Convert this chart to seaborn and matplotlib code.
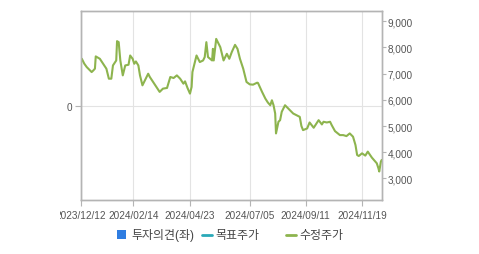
import matplotlib
matplotlib.use("Agg")
import matplotlib.pyplot as plt
from matplotlib.patches import Rectangle
from matplotlib.lines import Line2D
from matplotlib.transforms import Bbox, TransformedBbox
import pandas as pd
import seaborn as sns

# ---- data ----
dates = [
    "2023-12-13", "2023-12-16", "2023-12-19", "2023-12-25", "2023-12-27", "2023-12-29", "2023-12-30",
    "2024-01-04", "2024-01-08", "2024-01-12", "2024-01-15", "2024-01-18", "2024-01-20", "2024-01-24",
    "2024-01-25", "2024-01-27", "2024-01-29", "2024-02-01", "2024-02-04", "2024-02-08", "2024-02-10",
    "2024-02-13", "2024-02-15", "2024-02-17", "2024-02-20", "2024-02-22", "2024-02-25", "2024-02-28",
    "2024-03-03", "2024-03-05", "2024-03-09", "2024-03-13", "2024-03-17", "2024-03-21", "2024-03-26",
    "2024-03-30", "2024-04-03", "2024-04-07", "2024-04-11", "2024-04-15", "2024-04-17", "2024-04-20",
    "2024-04-23", "2024-04-25", "2024-04-26", "2024-05-01", "2024-05-05", "2024-05-09", "2024-05-11",
    "2024-05-13", "2024-05-15", "2024-05-20", "2024-05-21", "2024-05-22", "2024-05-25", "2024-05-30",
    "2024-06-03", "2024-06-07", "2024-06-10", "2024-06-13", "2024-06-17", "2024-06-20", "2024-06-23",
    "2024-06-27", "2024-07-01", "2024-07-05", "2024-07-09", "2024-07-14", "2024-07-15", "2024-07-20",
    "2024-07-24", "2024-07-27", "2024-07-30", "2024-08-01", "2024-08-03", "2024-08-05", "2024-08-06",
    "2024-08-09", "2024-08-11", "2024-08-13", "2024-08-17", "2024-08-21", "2024-08-23", "2024-08-27",
    "2024-08-31", "2024-09-04", "2024-09-06", "2024-09-08", "2024-09-13", "2024-09-16", "2024-09-21",
    "2024-09-27", "2024-10-01", "2024-10-03", "2024-10-07", "2024-10-11", "2024-10-13", "2024-10-17",
    "2024-10-23", "2024-10-27", "2024-10-31", "2024-11-04", "2024-11-08", "2024-11-11", "2024-11-13",
    "2024-11-15", "2024-11-19", "2024-11-23", "2024-11-26", "2024-12-01", "2024-12-07", "2024-12-09",
    "2024-12-10", "2024-12-12", "2024-12-13",
]
adj_price = [
    7567, 7380, 7250, 7060, 7120, 7190, 7658,
    7567, 7377, 7187, 6807, 6807, 7313, 7503,
    8240, 8202, 7503, 6933, 7313, 7339, 7693,
    7567, 7377, 7465, 7313, 6933, 6553, 6743,
    6997, 6872, 6682, 6492, 6302, 6427, 6453,
    6872, 6833, 6933, 6807, 6617, 6705, 6453,
    6237, 6492, 7062, 7693, 7442, 7503, 7632,
    8202, 7632, 7503, 7947, 7503, 8327, 8012,
    7503, 7757, 7567, 7822, 8099, 7947, 7567,
    7187, 6682, 6590, 6579, 6655, 6645, 6302,
    6047, 5900, 5793, 5983, 5793, 5477, 4717,
    5162, 5223, 5542, 5793, 5667, 5603, 5477,
    5413, 5350, 5000, 4843, 4907, 5135, 4934,
    5223, 5060, 5162, 5135, 5162, 5033, 4805,
    4653, 4653, 4615, 4717, 4592, 4273, 3893,
    3855, 3957, 3870, 4022, 3794, 3577, 3387,
    3262, 3642, 3703,
]
x_tick_dates = ["2023-12-12", "2024-02-14", "2024-04-23", "2024-07-05", "2024-09-11", "2024-11-19"]
x_tick_labels = ["2023/12/12", "2024/02/14", "2024/04/23", "2024/07/05", "2024/09/11", "2024/11/19"]
right_ticks = [3000, 4000, 5000, 6000, 7000, 8000, 9000]
left_ticks = [0]
legend_labels = ["투자의견(좌)", "목표주가", "수정주가"]

# ---- style ----
sns.set_theme(style="white")
plt.rcParams["font.family"] = ["Liberation Sans", "Noto Sans CJK KR", "DejaVu Sans"]

GREEN = "#8db44e"
TEAL = "#2aa9b8"
BLUE = "#2f7de1"
SPINE = "#b4b4b4"
GRID = "#e3e3e3"
TXT = "#555555"

df = pd.DataFrame({"date": pd.to_datetime(dates), "price": adj_price})

W, H = 479, 255
fig = plt.figure(figsize=(W / 100, H / 100), dpi=100)
ax = fig.add_axes([81 / W, 1 - 201 / H, (381.7 - 81) / W, (201 - 12.3) / H])
ax2 = ax.twinx()

sns.lineplot(data=df, x="date", y="price", ax=ax2, color=GREEN, linewidth=1.5)

ax.set_xlim(pd.Timestamp("2023-12-12"), pd.Timestamp("2024-12-13"))
ax.set_ylim(-1, 1)
ax.set_yticks(left_ticks)
ax.set_yticklabels([str(v) for v in left_ticks])
ax2.set_ylim(2175, 9380)
ax2.set_yticks(right_ticks)
ax2.set_yticklabels([f"{v:,}" for v in right_ticks])

ax.set_xticks(pd.to_datetime(x_tick_dates))
ax.set_xticklabels(x_tick_labels)

ax.grid(True, color=GRID, linewidth=0.8)
ax.set_axisbelow(True)
ax2.grid(False)
for a in (ax, ax2):
    a.set_xlabel("")
    a.set_ylabel("")
    for s in a.spines.values():
        s.set_color(SPINE)
        s.set_linewidth(1.0)
        s.set_visible(True)

ax.tick_params(axis="x", bottom=True, length=4, width=0.8, color=SPINE, labelsize=7.2,
               labelcolor=TXT, pad=3)
ax.tick_params(axis="y", left=True, length=4, width=0.8, color=SPINE, labelsize=7.2,
               labelcolor=TXT, pad=2)
ax2.tick_params(axis="y", right=True, length=3, width=0.8, color=SPINE, labelsize=7.2,
                labelcolor=TXT, pad=1.5)

# first x label is clipped at the left like in the reference
clip = TransformedBbox(Bbox([[60 / W, 0], [1, 1]]), fig.transFigure)
first = ax.xaxis.get_major_ticks()[0].label1
first.set_clip_box(clip)
first.set_clip_on(True)

# ---- legend (bottom, hand placed) ----
ly = 1 - 235.5 / H
fig.add_artist(Rectangle((117 / W, 1 - 240 / H), 9 / W, 9 / H, transform=fig.transFigure,
                         facecolor=BLUE, edgecolor="none"))
fig.add_artist(Line2D([202 / W, 212 / W], [ly, ly], transform=fig.transFigure, color=TEAL, linewidth=2))
fig.add_artist(Line2D([286 / W, 296 / W], [ly, ly], transform=fig.transFigure, color=GREEN, linewidth=2))
for xp, lab in zip([131, 215, 299], legend_labels):
    fig.text(xp / W, ly, lab, ha="left", va="center", fontsize=8.6, color="#444444")

fig.savefig("out.png", dpi=100)
